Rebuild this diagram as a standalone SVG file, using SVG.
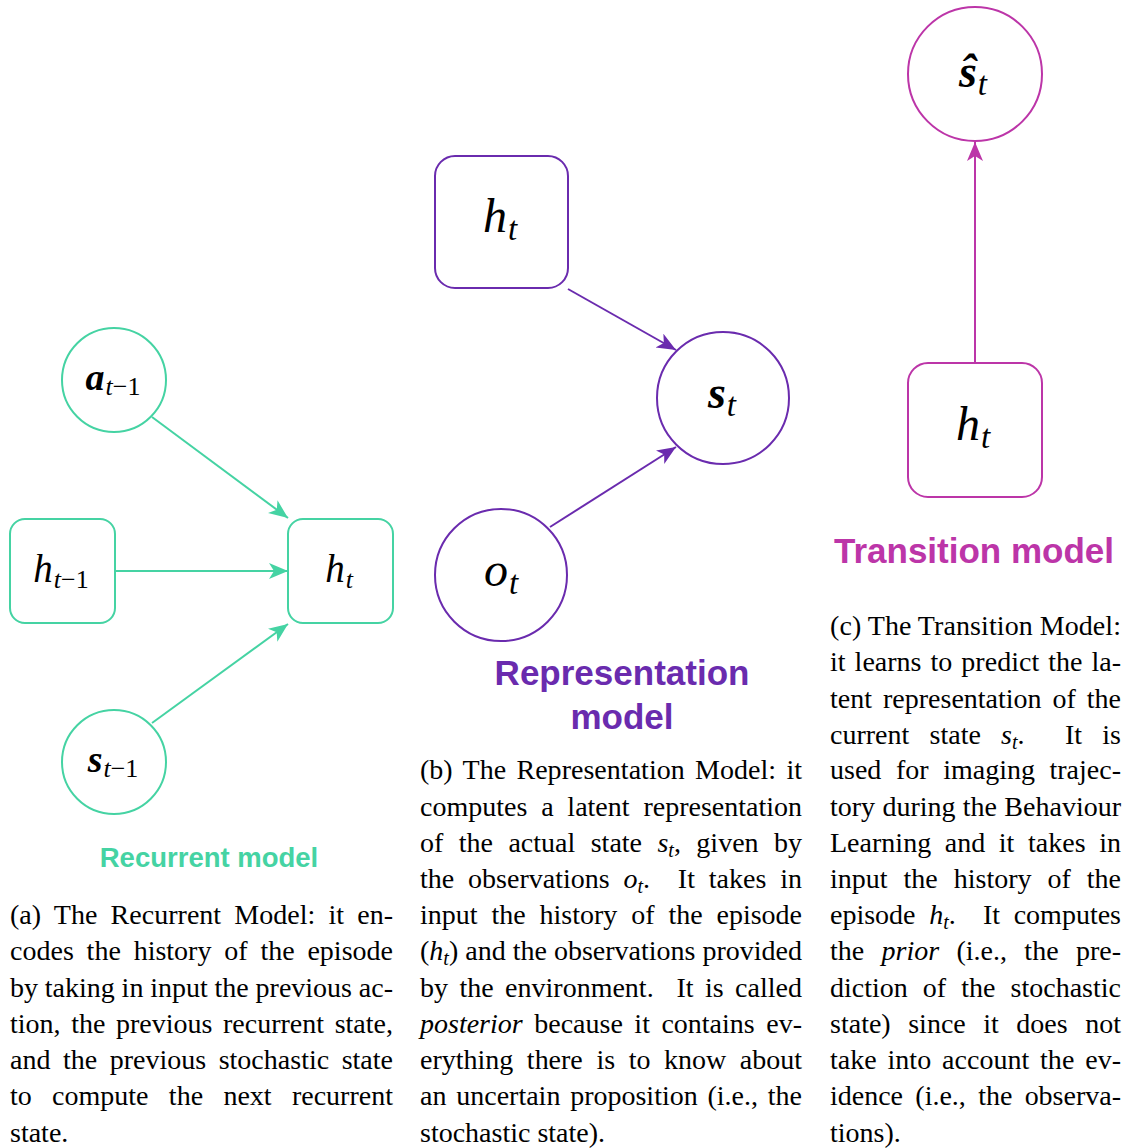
<svg xmlns="http://www.w3.org/2000/svg" width="1123" height="1148" viewBox="0 0 1123 1148">
  <style>
    .green { stroke: #45D3A3; }
    .purple { stroke: #6A2BAE; }
    .magenta { stroke: #BC35A8; }
    .node { fill: #ffffff; stroke-width: 2; }
    .edge { fill: none; stroke-width: 2; }
    .math { font-family: "Liberation Serif", "Times New Roman", serif; font-style: italic; fill: #000; }
    .bold { font-weight: bold; }
    .up { font-style: normal; }
    .title { font-family: "Liberation Sans", Arial, sans-serif; font-weight: bold; text-anchor: middle; }
    .cap { font-family: "Liberation Serif", "Times New Roman", serif; font-size: 28px; fill: #000; }
    .it { font-style: italic; }
    .sb { font-size: 20px; font-style: italic; }
  </style>
  <defs>
    <marker id="arrow-green" markerUnits="userSpaceOnUse" markerWidth="20" markerHeight="17" refX="19" refY="8" orient="auto">
      <path d="M0,0 L19,8 L0,16 L5,8 Z" fill="#45D3A3"/>
    </marker>
    <marker id="arrow-purple" markerUnits="userSpaceOnUse" markerWidth="20" markerHeight="17" refX="19" refY="8" orient="auto">
      <path d="M0,0 L19,8 L0,16 L5,8 Z" fill="#6A2BAE"/>
    </marker>
    <marker id="arrow-magenta" markerUnits="userSpaceOnUse" markerWidth="20" markerHeight="17" refX="19" refY="8" orient="auto">
      <path d="M0,0 L19,8 L0,16 L5,8 Z" fill="#BC35A8"/>
    </marker>
  </defs>
  <rect width="1123" height="1148" fill="#ffffff"/>

  <!-- connectors -->
  <g id="connectors">
    <path class="edge green" d="M152,417 L288,518" marker-end="url(#arrow-green)"/>
    <path class="edge green" d="M115,571 L288,571" marker-end="url(#arrow-green)"/>
    <path class="edge green" d="M152,723 L288,624" marker-end="url(#arrow-green)"/>
    <path class="edge purple" d="M568,289 L676,350" marker-end="url(#arrow-purple)"/>
    <path class="edge purple" d="M550,527 L676,447" marker-end="url(#arrow-purple)"/>
    <path class="edge magenta" d="M975,363 L975,142" marker-end="url(#arrow-magenta)"/>
  </g>

  <!-- recurrent model -->
  <g id="rec-a">
    <circle class="node green" cx="114" cy="380" r="52"/>
    <text class="math bold" x="113" y="390" font-size="38" text-anchor="middle">a<tspan font-size="26" font-weight="normal" dx="1" dy="5">t</tspan><tspan class="up" font-size="26" font-weight="normal">−1</tspan></text>
  </g>
  <g id="rec-hprev">
    <rect class="node green" x="10" y="519" width="105" height="104" rx="15"/>
    <text class="math" x="61" y="582" font-size="39" text-anchor="middle">h<tspan font-size="26" dx="1" dy="6">t</tspan><tspan class="up" font-size="26">−1</tspan></text>
  </g>
  <g id="rec-h">
    <rect class="node green" x="288" y="519" width="105" height="104" rx="15"/>
    <text class="math" x="339" y="582" font-size="39" text-anchor="middle">h<tspan font-size="26" dx="1" dy="6">t</tspan></text>
  </g>
  <g id="rec-s">
    <circle class="node green" cx="114" cy="762" r="52"/>
    <text class="math bold" x="113" y="772" font-size="38" text-anchor="middle">s<tspan font-size="26" font-weight="normal" dx="1" dy="5">t</tspan><tspan class="up" font-size="26" font-weight="normal">−1</tspan></text>
  </g>
  <text id="rec-title" class="title" x="209" y="867" font-size="27.5" fill="#45D3A3">Recurrent model</text>

  <!-- representation model -->
  <g id="rep-h">
    <rect class="node purple" x="435" y="156" width="133" height="132" rx="20"/>
    <text class="math" x="500" y="232" font-size="48" text-anchor="middle">h<tspan font-size="33" dx="1" dy="8">t</tspan></text>
  </g>
  <g id="rep-s">
    <circle class="node purple" cx="723" cy="398" r="66"/>
    <text class="math bold" x="722" y="408" font-size="46" text-anchor="middle">s<tspan font-size="33" font-weight="normal" dx="1" dy="8">t</tspan></text>
  </g>
  <g id="rep-o">
    <circle class="node purple" cx="501" cy="575" r="66"/>
    <text class="math" x="501" y="586" font-size="48" text-anchor="middle">o<tspan font-size="33" dx="1" dy="8">t</tspan></text>
  </g>
  <text id="rep-title" class="title" font-size="35" fill="#6A2BAE"><tspan x="622" y="685">Representation</tspan><tspan x="622" y="729">model</tspan></text>

  <!-- transition model -->
  <g id="tr-s">
    <circle class="node magenta" cx="975" cy="74" r="67"/>
    <text class="math bold" x="973" y="87" font-size="46" text-anchor="middle">ŝ<tspan font-size="33" font-weight="normal" dx="1" dy="8">t</tspan></text>
  </g>
  <g id="tr-h">
    <rect class="node magenta" x="908" y="363" width="134" height="134" rx="20"/>
    <text class="math" x="973" y="440" font-size="48" text-anchor="middle">h<tspan font-size="33" dx="1" dy="8">t</tspan></text>
  </g>
  <text id="tr-title" class="title" x="974" y="563" font-size="35" fill="#BC35A8">Transition model</text>

  <!-- caption (a) -->
  <g id="caption-a" class="cap">
    <text x="10" y="924" textLength="383" lengthAdjust="spacing" style="word-spacing:6.1px">(a) The Recurrent Model: it en-</text>
    <text x="10" y="960" textLength="383" lengthAdjust="spacing" style="word-spacing:5.8px">codes the history of the episode</text>
    <text x="10" y="996.5" textLength="383" lengthAdjust="spacing" style="word-spacing:-0.2px">by taking in input the previous ac-</text>
    <text x="10" y="1032.5" textLength="383" lengthAdjust="spacing" style="word-spacing:3.6px">tion, the previous recurrent state,</text>
    <text x="10" y="1069" textLength="383" lengthAdjust="spacing" style="word-spacing:5.5px">and the previous stochastic state</text>
    <text x="10" y="1105" textLength="383" lengthAdjust="spacing" style="word-spacing:13.3px">to compute the next recurrent</text>
    <text x="10" y="1141.5">state.</text>
  </g>

  <!-- caption (b) -->
  <g id="caption-b" class="cap">
    <text x="420" y="779" textLength="382" lengthAdjust="spacing" style="word-spacing:3.3px">(b) The Representation Model: it</text>
    <text x="420" y="815.5" textLength="382" lengthAdjust="spacing" style="word-spacing:6.8px">computes a latent representation</text>
    <text x="420" y="851.5" textLength="382" lengthAdjust="spacing" style="word-spacing:8.4px">of the actual state <tspan class="it">s</tspan><tspan class="sb" dy="5">t</tspan><tspan dy="-5">, given by</tspan></text>
    <text x="420" y="888" textLength="382" lengthAdjust="spacing" style="word-spacing:6.9px">the observations <tspan class="it">o</tspan><tspan class="sb" dy="5">t</tspan><tspan dy="-5">.&#160; It takes in</tspan></text>
    <text x="420" y="924" textLength="382" lengthAdjust="spacing" style="word-spacing:6.9px">input the history of the episode</text>
    <text x="420" y="960" textLength="382" lengthAdjust="spacing" style="word-spacing:0px">(<tspan class="it">h</tspan><tspan class="sb" dy="5">t</tspan><tspan dy="-5">) and the observations provided</tspan></text>
    <text x="420" y="996.5" textLength="382" lengthAdjust="spacing" style="word-spacing:4.4px">by the environment.&#160; It is called</text>
    <text x="420" y="1032.5" textLength="382" lengthAdjust="spacing" style="word-spacing:4.5px"><tspan class="it">posterior</tspan> because it contains ev-</text>
    <text x="420" y="1069" textLength="382" lengthAdjust="spacing" style="word-spacing:6.6px">erything there is to know about</text>
    <text x="420" y="1105" textLength="382" lengthAdjust="spacing" style="word-spacing:2.8px">an uncertain proposition (i.e., the</text>
    <text x="420" y="1141.5">stochastic state).</text>
  </g>

  <!-- caption (c) -->
  <g id="caption-c" class="cap">
    <text x="830" y="635" textLength="291" lengthAdjust="spacing" style="word-spacing:-0.2px">(c) The Transition Model:</text>
    <text x="830" y="671" textLength="291" lengthAdjust="spacing" style="word-spacing:2px">it learns to predict the la-</text>
    <text x="830" y="707.5" textLength="291" lengthAdjust="spacing" style="word-spacing:3.9px">tent representation of the</text>
    <text x="830" y="743.5" textLength="291" lengthAdjust="spacing" style="word-spacing:13.2px">current state <tspan class="it">s</tspan><tspan class="sb" dy="5">t</tspan><tspan dy="-5">.&#160; It is</tspan></text>
    <text x="830" y="779" textLength="291" lengthAdjust="spacing" style="word-spacing:7.6px">used for imaging trajec-</text>
    <text x="830" y="815.5" textLength="291" lengthAdjust="spacing" style="word-spacing:0.3px">tory during the Behaviour</text>
    <text x="830" y="851.5" textLength="291" lengthAdjust="spacing" style="word-spacing:6.6px">Learning and it takes in</text>
    <text x="830" y="888" textLength="291" lengthAdjust="spacing" style="word-spacing:9px">input the history of the</text>
    <text x="830" y="924" textLength="291" lengthAdjust="spacing" style="word-spacing:6.6px">episode <tspan class="it">h</tspan><tspan class="sb" dy="5">t</tspan><tspan dy="-5">.&#160; It computes</tspan></text>
    <text x="830" y="960" textLength="291" lengthAdjust="spacing" style="word-spacing:10.3px">the <tspan class="it">prior</tspan> (i.e., the pre-</text>
    <text x="830" y="996.5" textLength="291" lengthAdjust="spacing" style="word-spacing:8.1px">diction of the stochastic</text>
    <text x="830" y="1032.5" textLength="291" lengthAdjust="spacing" style="word-spacing:10.5px">state) since it does not</text>
    <text x="830" y="1069" textLength="291" lengthAdjust="spacing" style="word-spacing:3.9px">take into account the ev-</text>
    <text x="830" y="1105" textLength="291" lengthAdjust="spacing" style="word-spacing:5.3px">idence (i.e., the observa-</text>
    <text x="830" y="1141.5">tions).</text>
  </g>
</svg>
